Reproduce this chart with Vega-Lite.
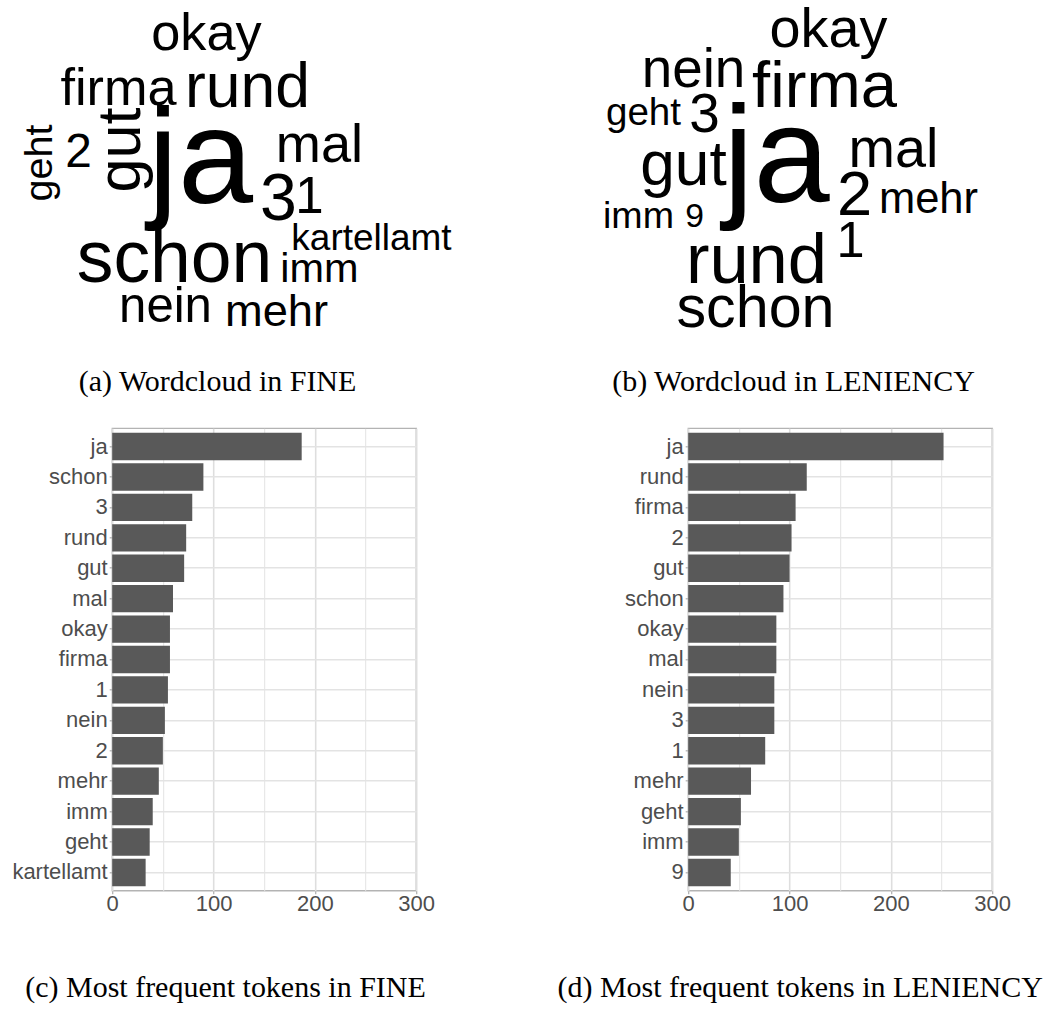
{
  "$schema": "https://vega.github.io/schema/vega-lite/v6.json",
  "padding": {"left": 10.2, "top": 0, "right": 5, "bottom": 5},
  "background": "white",
  "datasets": {
    "fine": [
      {"token": "ja", "n": 187},
      {"token": "schon", "n": 90},
      {"token": "3", "n": 79},
      {"token": "rund", "n": 73},
      {"token": "gut", "n": 71},
      {"token": "mal", "n": 60},
      {"token": "okay", "n": 57},
      {"token": "firma", "n": 57},
      {"token": "1", "n": 55},
      {"token": "nein", "n": 52},
      {"token": "2", "n": 50},
      {"token": "mehr", "n": 46},
      {"token": "imm", "n": 40},
      {"token": "geht", "n": 37},
      {"token": "kartellamt", "n": 33}
    ],
    "leniency": [
      {"token": "ja", "n": 252},
      {"token": "rund", "n": 117},
      {"token": "firma", "n": 106},
      {"token": "2", "n": 102},
      {"token": "gut", "n": 100},
      {"token": "schon", "n": 94},
      {"token": "okay", "n": 87},
      {"token": "mal", "n": 87},
      {"token": "nein", "n": 85},
      {"token": "3", "n": 85},
      {"token": "1", "n": 76},
      {"token": "mehr", "n": 62},
      {"token": "geht", "n": 52},
      {"token": "imm", "n": 50},
      {"token": "9", "n": 42}
    ],
    "fine_cloud": [
      {"token": "okay", "cx": 94.3, "cy": 50, "vertical": false},
      {"token": "firma", "cx": 6.3, "cy": 105, "vertical": false},
      {"token": "rund", "cx": 135.3, "cy": 107, "vertical": false},
      {"token": "gut", "cx": 28.3, "cy": 150, "vertical": true},
      {"token": "geht", "cx": -60.2, "cy": 163, "vertical": true},
      {"token": "2", "cx": -33.7, "cy": 167, "vertical": false},
      {"token": "ja", "cx": 88.3, "cy": 203, "vertical": false},
      {"token": "mal", "cx": 207.3, "cy": 162, "vertical": false},
      {"token": "3", "cx": 166.3, "cy": 220, "vertical": false},
      {"token": "1", "cx": 197.3, "cy": 213, "vertical": false},
      {"token": "kartellamt", "cx": 259.3, "cy": 250, "vertical": false},
      {"token": "schon", "cx": 62.3, "cy": 282, "vertical": false},
      {"token": "imm", "cx": 207.3, "cy": 282, "vertical": false},
      {"token": "nein", "cx": 53.3, "cy": 322, "vertical": false},
      {"token": "mehr", "cx": 164.3, "cy": 326, "vertical": false}
    ],
    "leniency_cloud": [
      {"token": "okay", "cx": 140.3, "cy": 47, "vertical": false},
      {"token": "nein", "cx": 5.3, "cy": 87, "vertical": false},
      {"token": "firma", "cx": 136.3, "cy": 107, "vertical": false},
      {"token": "geht", "cx": -44.7, "cy": 125, "vertical": false},
      {"token": "3", "cx": 16.3, "cy": 132, "vertical": false},
      {"token": "gut", "cx": -4.7, "cy": 185, "vertical": false},
      {"token": "ja", "cx": 88.3, "cy": 202, "vertical": false},
      {"token": "mal", "cx": 205.3, "cy": 167, "vertical": false},
      {"token": "2", "cx": 166.3, "cy": 215, "vertical": false},
      {"token": "mehr", "cx": 240.3, "cy": 213, "vertical": false},
      {"token": "imm", "cx": -49.7, "cy": 228, "vertical": false},
      {"token": "9", "cx": 6.3, "cy": 227, "vertical": false},
      {"token": "rund", "cx": 68.3, "cy": 283, "vertical": false},
      {"token": "1", "cx": 162.3, "cy": 257, "vertical": false},
      {"token": "schon", "cx": 67.3, "cy": 327, "vertical": false}
    ]
  },
  "columns": 2,
  "bounds": "flush",
  "spacing": {"row": 88.3, "column": 272},
  "resolve": {"scale": {"size": "independent"}},
  "concat": [
    {
      "width": 304,
      "height": 340,
      "view": {"stroke": null},
      "data": {"name": "fine_cloud"},
      "transform": [{"lookup": "token", "from": {"data": {"name": "fine"}, "key": "token", "fields": ["n"]}}],
      "encoding": {
        "x": {"field": "cx", "type": "quantitative", "scale": {"domain": [0, 304], "nice": false, "zero": false}, "axis": null},
        "y": {"field": "cy", "type": "quantitative", "scale": {"domain": [0, 340], "reverse": true, "nice": false, "zero": false}, "axis": null},
        "size": {"field": "n", "type": "quantitative", "scale": {"domain": [0, 187], "range": [16, 135]}, "legend": null},
        "text": {"field": "token", "type": "nominal"}
      },
      "layer": [
        {"transform": [{"filter": "!datum.vertical"}], "mark": {"type": "text", "font": "Liberation Sans", "align": "center", "baseline": "alphabetic", "color": "black"}},
        {"transform": [{"filter": "datum.vertical"}], "mark": {"type": "text", "font": "Liberation Sans", "align": "center", "baseline": "alphabetic", "color": "black", "angle": 270}}
      ],
      "title": {"text": "(a) Wordcloud in FINE", "orient": "bottom", "anchor": "middle", "frame": "group", "baseline": "alphabetic", "offset": 51, "dx": -46.7}
    },
    {
      "width": 304,
      "height": 340,
      "view": {"stroke": null},
      "data": {"name": "leniency_cloud"},
      "transform": [{"lookup": "token", "from": {"data": {"name": "leniency"}, "key": "token", "fields": ["n"]}}],
      "encoding": {
        "x": {"field": "cx", "type": "quantitative", "scale": {"domain": [0, 304], "nice": false, "zero": false}, "axis": null},
        "y": {"field": "cy", "type": "quantitative", "scale": {"domain": [0, 340], "reverse": true, "nice": false, "zero": false}, "axis": null},
        "size": {"field": "n", "type": "quantitative", "scale": {"domain": [0, 252], "range": [13, 137]}, "legend": null},
        "text": {"field": "token", "type": "nominal"}
      },
      "layer": [
        {"transform": [{"filter": "!datum.vertical"}], "mark": {"type": "text", "font": "Liberation Sans", "align": "center", "baseline": "alphabetic", "color": "black"}},
        {"transform": [{"filter": "datum.vertical"}], "mark": {"type": "text", "font": "Liberation Sans", "align": "center", "baseline": "alphabetic", "color": "black", "angle": 270}}
      ],
      "title": {"text": "(b) Wordcloud in LENIENCY", "orient": "bottom", "anchor": "middle", "frame": "group", "baseline": "alphabetic", "offset": 51, "dx": -46.7}
    },
    {
      "width": 304,
      "height": 462.4,
      "data": {"name": "fine"},
      "mark": {"type": "bar", "color": "#595959"},
      "encoding": {
        "x": {
          "field": "n", "type": "quantitative",
          "scale": {"domain": [0, 300], "nice": false, "zero": true},
          "axis": {
            "title": null,
            "values": [0, 50, 100, 150, 200, 250, 300],
            "labelExpr": "datum.value % 100 === 0 ? datum.label : ''",
            "labelFlush": false,
            "labelOverlap": false,
            "labelPadding": 0,
            "tickColor": {"condition": {"test": "datum.value % 100 === 0", "value": "#B3B3B3"}, "value": "transparent"},
            "gridColor": {"condition": {"test": "datum.value % 100 === 0", "value": "#DEDEDE"}, "value": "#E3E3E3"},
            "gridWidth": {"condition": {"test": "datum.value % 100 === 0", "value": 1.6}, "value": 1.0}
          }
        },
        "y": {
          "field": "token", "type": "nominal", "sort": null,
          "scale": {"paddingInner": 0.1, "paddingOuter": 0.15},
          "axis": {"title": null, "grid": true, "bandPosition": 0.5, "gridColor": "#E3E3E3", "gridWidth": 1.6}
        }
      },
      "title": {"text": "(c) Most frequent tokens in FINE", "orient": "bottom", "anchor": "middle", "frame": "group", "baseline": "alphabetic", "offset": 82, "dx": -38.7}
    },
    {
      "width": 304,
      "height": 462.4,
      "data": {"name": "leniency"},
      "mark": {"type": "bar", "color": "#595959"},
      "encoding": {
        "x": {
          "field": "n", "type": "quantitative",
          "scale": {"domain": [0, 300], "nice": false, "zero": true},
          "axis": {
            "title": null,
            "values": [0, 50, 100, 150, 200, 250, 300],
            "labelExpr": "datum.value % 100 === 0 ? datum.label : ''",
            "labelFlush": false,
            "labelOverlap": false,
            "labelPadding": 0,
            "tickColor": {"condition": {"test": "datum.value % 100 === 0", "value": "#B3B3B3"}, "value": "transparent"},
            "gridColor": {"condition": {"test": "datum.value % 100 === 0", "value": "#DEDEDE"}, "value": "#E3E3E3"},
            "gridWidth": {"condition": {"test": "datum.value % 100 === 0", "value": 1.6}, "value": 1.0}
          }
        },
        "y": {
          "field": "token", "type": "nominal", "sort": null,
          "scale": {"paddingInner": 0.1, "paddingOuter": 0.15},
          "axis": {"title": null, "grid": true, "bandPosition": 0.5, "gridColor": "#E3E3E3", "gridWidth": 1.6}
        }
      },
      "title": {"text": "(d) Most frequent tokens in LENIENCY", "orient": "bottom", "anchor": "middle", "frame": "group", "baseline": "alphabetic", "offset": 82, "dx": -40}
    }
  ],
  "config": {
    "font": "Liberation Sans",
    "view": {"stroke": "#B3B3B3", "strokeWidth": 1.4},
    "axis": {
      "labelFont": "Liberation Sans",
      "labelFontSize": 22,
      "labelColor": "#4D4D4D",
      "domain": false,
      "tickColor": "#B3B3B3",
      "tickSize": 3,
      "tickWidth": 1.3,
      "labelPadding": 2
    },
    "title": {"font": "Liberation Serif", "fontSize": 30, "fontWeight": "normal", "color": "black"}
  }
}
